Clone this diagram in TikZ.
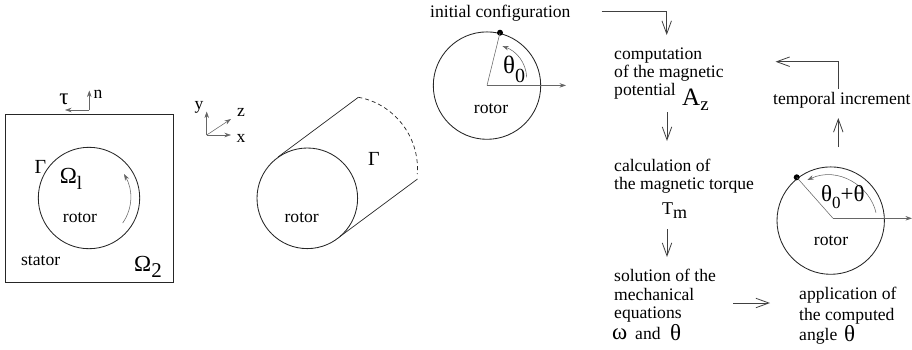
\documentclass[tikz,border=0pt]{standalone}
\usepackage{fontspec}
\setmainfont{Liberation Serif}
\usetikzlibrary{arrows.meta}
\newcommand{\lab}{\fontsize{17.6}{20}\selectfont}
\newcommand{\gk}{\fontsize{23}{25}\selectfont}
\newcommand{\sbs}[1]{\raisebox{-6pt}{\fontsize{21}{22}\selectfont #1}}
\tikzset{
  x=1pt,y=-1pt,
  txt/.style={inner sep=0pt,font=\lab,anchor=base west},
  ctr/.style={inner sep=0pt,font=\lab,anchor=base},
  sym/.style={inner sep=0pt,font=\gk,anchor=base},
  body/.style={draw=black!85,line width=0.85pt},
  thinline/.style={draw=black!60,line width=0.55pt},
  small/.style={thinline,-{Stealth[length=6.5pt,width=4.5pt]}},
  flow/.style={draw=black!75,line width=0.9pt,-{Straight Barb[length=13pt,width=9.5pt,line width=0.8pt]}},
}
\begin{document}
\begin{tikzpicture}
\useasboundingbox (0,0) rectangle (912,349);

% ---- left: stator / rotor
\draw[body] (5.5,114) rectangle (173,282);
\draw[body] (89,198) circle (50.7);
\coordinate (spA) at (122.7,223);
\coordinate (spB) at (124,174);
\draw[small] (spA) .. controls (133,208) and (133,190) .. (spB);
\coordinate (nO) at (89.3,110);
\coordinate (nT) at (89.3,90.5);
\coordinate (tT) at (65,110);
\draw[small] (nO) -- (nT);
\draw[small] (nO) -- (tT);
\node[sym] (ltau) at (64,104) {τ};
\node[ctr] (ln) at (98,98) {n};
\node[sym,font=\fontsize{20}{22}\selectfont] (lgam1) at (40.5,173) {Γ};
\node[sym] (lom1) at (71,183) {Ω\raisebox{-6pt}{\fontsize{19}{20}\selectfont l}};
\node[ctr] (lrot1) at (80,222) {rotor};
\node[ctr] (lsta) at (40.7,265) {stator};
\node[sym] (lom2) at (148,271) {Ω\sbs{2}};

% ---- axes
\coordinate (axO) at (206.7,135);
\coordinate (axY) at (206.7,111.5);
\coordinate (axX) at (231,135);
\coordinate (axZ) at (231,119);
\draw[small] (axO) -- (axY);
\draw[small] (axO) -- (axX);
\draw[small] (axO) -- (axZ);
\node[ctr] (ly) at (199,109) {y};
\node[ctr] (lz) at (241,116) {z};
\node[ctr] (lx) at (241,142) {x};

% ---- cylinder
\draw[body] (307.3,198.3) circle (50.3);
\coordinate (cyA) at (278,157);
\coordinate (cyB) at (358.3,97.3);
\coordinate (cyC) at (340,236.5);
\coordinate (cyD) at (417.5,179);
\coordinate (cyE) at (417.3,174);
\draw[body,line width=0.7pt] (cyA) -- (cyB);
\draw[body,line width=0.7pt] (cyC) -- (cyD);
\draw[body,line width=0.7pt,dash pattern=on 4pt off 3pt] (cyB) .. controls (392,103) and (420,135) .. (cyE);
\node[ctr] (lrot2) at (301.7,222) {rotor};
\node[sym,font=\fontsize{20}{22}\selectfont] (lgam2) at (374,165) {Γ};

% ---- initial rotor
\node[txt] (init) at (430,17) {initial configuration};
\draw[body] (487,85.6) circle (53.7);
\coordinate (c3) at (487,85.4);
\coordinate (c3R) at (566,85.4);
\node[circle,fill=black,inner sep=0pt,minimum size=6pt] (dot3) at (500,32.7) {};
\draw[thinline] (c3) -- (dot3.center);
\draw[small] (c3) -- (c3R);
\coordinate (ar3A) at (526.7,77.3);
\coordinate (ar3B) at (502.3,46);
\draw[small] (ar3A) .. controls (526,62) and (516,51) .. (ar3B);
\node[sym,anchor=base west,font=\fontsize{25}{26}\selectfont] (lth0) at (503,73) {θ\raisebox{-9pt}{\fontsize{20}{22}\selectfont 0}};
\node[ctr] (lrot3) at (491,113) {rotor};

% ---- flow text
\node[txt] (t1) at (614,59) {computation};
\node[txt] (t2) at (614,77) {of the magnetic};
\node[txt] (t3) at (614,95) {potential};
\node[sym,anchor=base west,font=\fontsize{25}{26}\selectfont] (taz) at (682,105) {A\raisebox{-5pt}{\fontsize{19}{20}\selectfont z}};
\node[txt] (t4) at (614,171) {calculation of};
\node[txt] (t5) at (614,189) {the magnetic torque};
\node[sym,anchor=base west,font=\fontsize{18}{20}\selectfont] (ttm) at (662,214) {T\raisebox{-4pt}{\fontsize{18}{20}\selectfont m}};
\node[txt] (t6) at (614,281) {solution of the};
\node[txt] (t7) at (614,300) {mechanical};
\node[txt] (t8) at (614,318) {equations};
\node[sym,anchor=base west] (t9a) at (612,339) {ω};
\node[txt] (t9b) at (635,339) {and};
\node[sym,anchor=base west] (t9c) at (670,340) {θ};
\node[txt] (t10) at (799,299) {application of};
\node[txt] (t11) at (799,320) {the computed};
\node[txt] (t12) at (799,340) {angle};
\node[sym,anchor=base west] (t12b) at (844,341) {θ};
\node[txt] (t13) at (773,104) {temporal increment};

% ---- rotor with increment
\draw[body] (830.7,220.6) circle (53.7);
\coordinate (c4) at (833,218.3);
\coordinate (c4R) at (912,218.3);
\node[circle,fill=black,inner sep=0pt,minimum size=6pt] (dot4) at (796.7,177.3) {};
\draw[thinline] (c4) -- (dot4.center);
\draw[small] (c4) -- (c4R);
\coordinate (ar4A) at (876,212.7);
\coordinate (ar4B) at (807.3,180);
\draw[small] (ar4A) .. controls (870,186) and (838,166) .. (ar4B);
\node[sym,anchor=base west,font=\fontsize{23}{24}\selectfont] (lth4) at (821,201) {θ\raisebox{-7pt}{\fontsize{17}{20}\selectfont 0}+θ};
\node[ctr] (lrot4) at (831,245) {rotor};

% ---- flow connectors
\coordinate (f1a) at (601.7,11.7);
\coordinate (f1b) at (666.7,11.7);
\coordinate (f1c) at (666.7,35);
\draw[flow] (f1a) -- (f1b) -- (f1c);
\coordinate (f2a) at (667,112);
\coordinate (f2b) at (667,141);
\draw[flow] (f2a) -- (f2b);
\coordinate (f3a) at (667,229);
\coordinate (f3b) at (667,257);
\draw[flow] (f3a) -- (f3b);
\coordinate (f4a) at (733,303);
\coordinate (f4b) at (770,303);
\draw[flow] (f4a) -- (f4b);
\coordinate (f5a) at (838.3,147);
\coordinate (f5b) at (838.3,118);
\draw[flow] (f5a) -- (f5b);
\coordinate (f6a) at (838.3,88.5);
\coordinate (f6b) at (838.3,61.7);
\coordinate (f6c) at (775.5,61.7);
\draw[flow] (f6a) -- (f6b) -- (f6c);
\end{tikzpicture}
\end{document}
